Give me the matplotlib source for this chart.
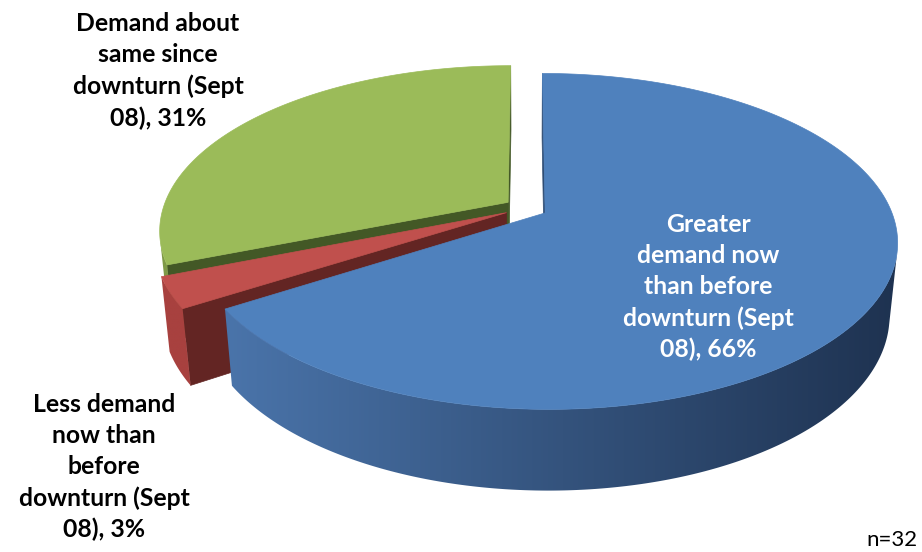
import numpy as np
import matplotlib
matplotlib.use("Agg")
import matplotlib.pyplot as plt
from matplotlib.colors import LinearSegmentedColormap
from matplotlib.patches import Polygon

# data
labels = [
    "Greater\ndemand now\nthan before\ndownturn (Sept\n08), 66%",
    "Less demand\nnow than\nbefore\ndownturn (Sept\n08), 3%",
    "Demand about\nsame since\ndownturn (Sept\n08), 31%",
]
shares = [66, 3, 31]
note = "n=32"

# styles
top_colors = ["#4f81bd", "#c0504d", "#9bbb59"]
side_colors = [("#4a74aa", "#1e3250"), ("#a8413f", "#a8413f"), ("#7f9a48", "#7f9a48")]
radial_colors = ["#2f4d74", "#632523", "#435826"]
label_colors = ["white", "black", "black"]
label_pos = [(708, 287), (104, 467), (158, 71)]
draw_order = [2, 1, 0]

# camera / geometry (pixels)
ELEV = np.radians(27.9)
DIST = 5.24
FOCAL = 1808.0
THICK = 0.24
EXPLODE = 0.063
CX, CY = 526, 208

s_e, c_e = np.sin(ELEV), np.cos(ELEV)
cam = np.array([0.0, DIST * s_e, -DIST * c_e])


def project(p):
    p = np.atleast_2d(p)
    depth = DIST + p[:, 1] * (-s_e) + p[:, 2] * c_e
    up = p[:, 1] * c_e + p[:, 2] * s_e
    return np.column_stack([CX + p[:, 0] * FOCAL / depth, CY - up * FOCAL / depth])


def rim(a, off, y):
    return np.column_stack([off[0] + np.cos(a), np.full_like(a, y), off[2] + np.sin(a)])


# slice angles: first slice starts at 12 o'clock, going clockwise
fracs = np.array(shares) / np.sum(shares) * 2 * np.pi
ends = np.pi / 2 - np.concatenate([[0], np.cumsum(fracs)[:-1]])
starts = ends - fracs

fig = plt.figure(figsize=(9.22, 5.52), dpi=100)
ax = fig.add_axes([0, 0, 1, 1])
ax.set_xlim(0, 922)
ax.set_ylim(552, 0)
ax.axis("off")

z = 1
for i in draw_order:
    a1, a2 = starts[i], ends[i]
    mid = (a1 + a2) / 2
    off = np.array([EXPLODE * np.cos(mid), 0.0, EXPLODE * np.sin(mid)])
    apex_t = off.copy()
    apex_b = off + np.array([0, -THICK, 0])

    # radial faces
    for ang, nang in [(a1, a1 - np.pi / 2), (a2, a2 + np.pi / 2)]:
        n = np.array([np.cos(nang), 0, np.sin(nang)])
        if np.dot(cam - apex_t, n) <= 0:
            continue
        e_t = rim(np.array([ang]), off, 0.0)[0]
        e_b = rim(np.array([ang]), off, -THICK)[0]
        poly = project(np.array([apex_t, e_t, e_b, apex_b]))
        ax.fill(poly[:, 0], poly[:, 1], color=radial_colors[i], lw=0.5, zorder=z)
        z += 1

    # outer wall: visible part only, filled with a horizontal gradient
    aa = np.linspace(a1, a2, 600)
    pts = rim(aa, off, 0.0)
    normals = np.column_stack([np.cos(aa), np.zeros_like(aa), np.sin(aa)])
    vis = np.einsum("ij,ij->i", cam - pts, normals) > 0
    if vis.any():
        av = aa[vis]
        wall = project(np.vstack([rim(av, off, 0.0), rim(av[::-1], off, -THICK)]))
        patch = Polygon(wall, closed=True, facecolor="none", edgecolor="none")
        ax.add_patch(patch)
        cmap = LinearSegmentedColormap.from_list("wall%d" % i, list(side_colors[i]))
        grad = np.linspace(0, 1, 256).reshape(1, -1)
        x0 = 225 if i == 0 else wall[:, 0].min()
        x1 = 900 if i == 0 else wall[:, 0].max() + 1
        im = ax.imshow(grad, cmap=cmap, aspect="auto", interpolation="bilinear",
                       extent=[x0, x1, wall[:, 1].max() + 1, wall[:, 1].min() - 1],
                       zorder=z)
        im.set_clip_path(patch)
        z += 1

    # top face
    pts = np.vstack([[apex_t], rim(np.linspace(a1, a2, 300), off, 0.0)])
    poly = project(pts)
    ax.fill(poly[:, 0], poly[:, 1], color=top_colors[i], lw=0.5, zorder=z)
    z += 1

ax.set_xlim(0, 922)
ax.set_ylim(552, 0)

for i in range(len(labels)):
    ax.text(label_pos[i][0], label_pos[i][1], labels[i], color=label_colors[i],
            ha="center", va="center", fontsize=17.8, fontweight="bold",
            family="Lato", linespacing=1.42, zorder=z)

ax.text(917, 540, note, ha="right", va="center", fontsize=16, family="Lato")

fig.savefig("out.png", dpi=100)
